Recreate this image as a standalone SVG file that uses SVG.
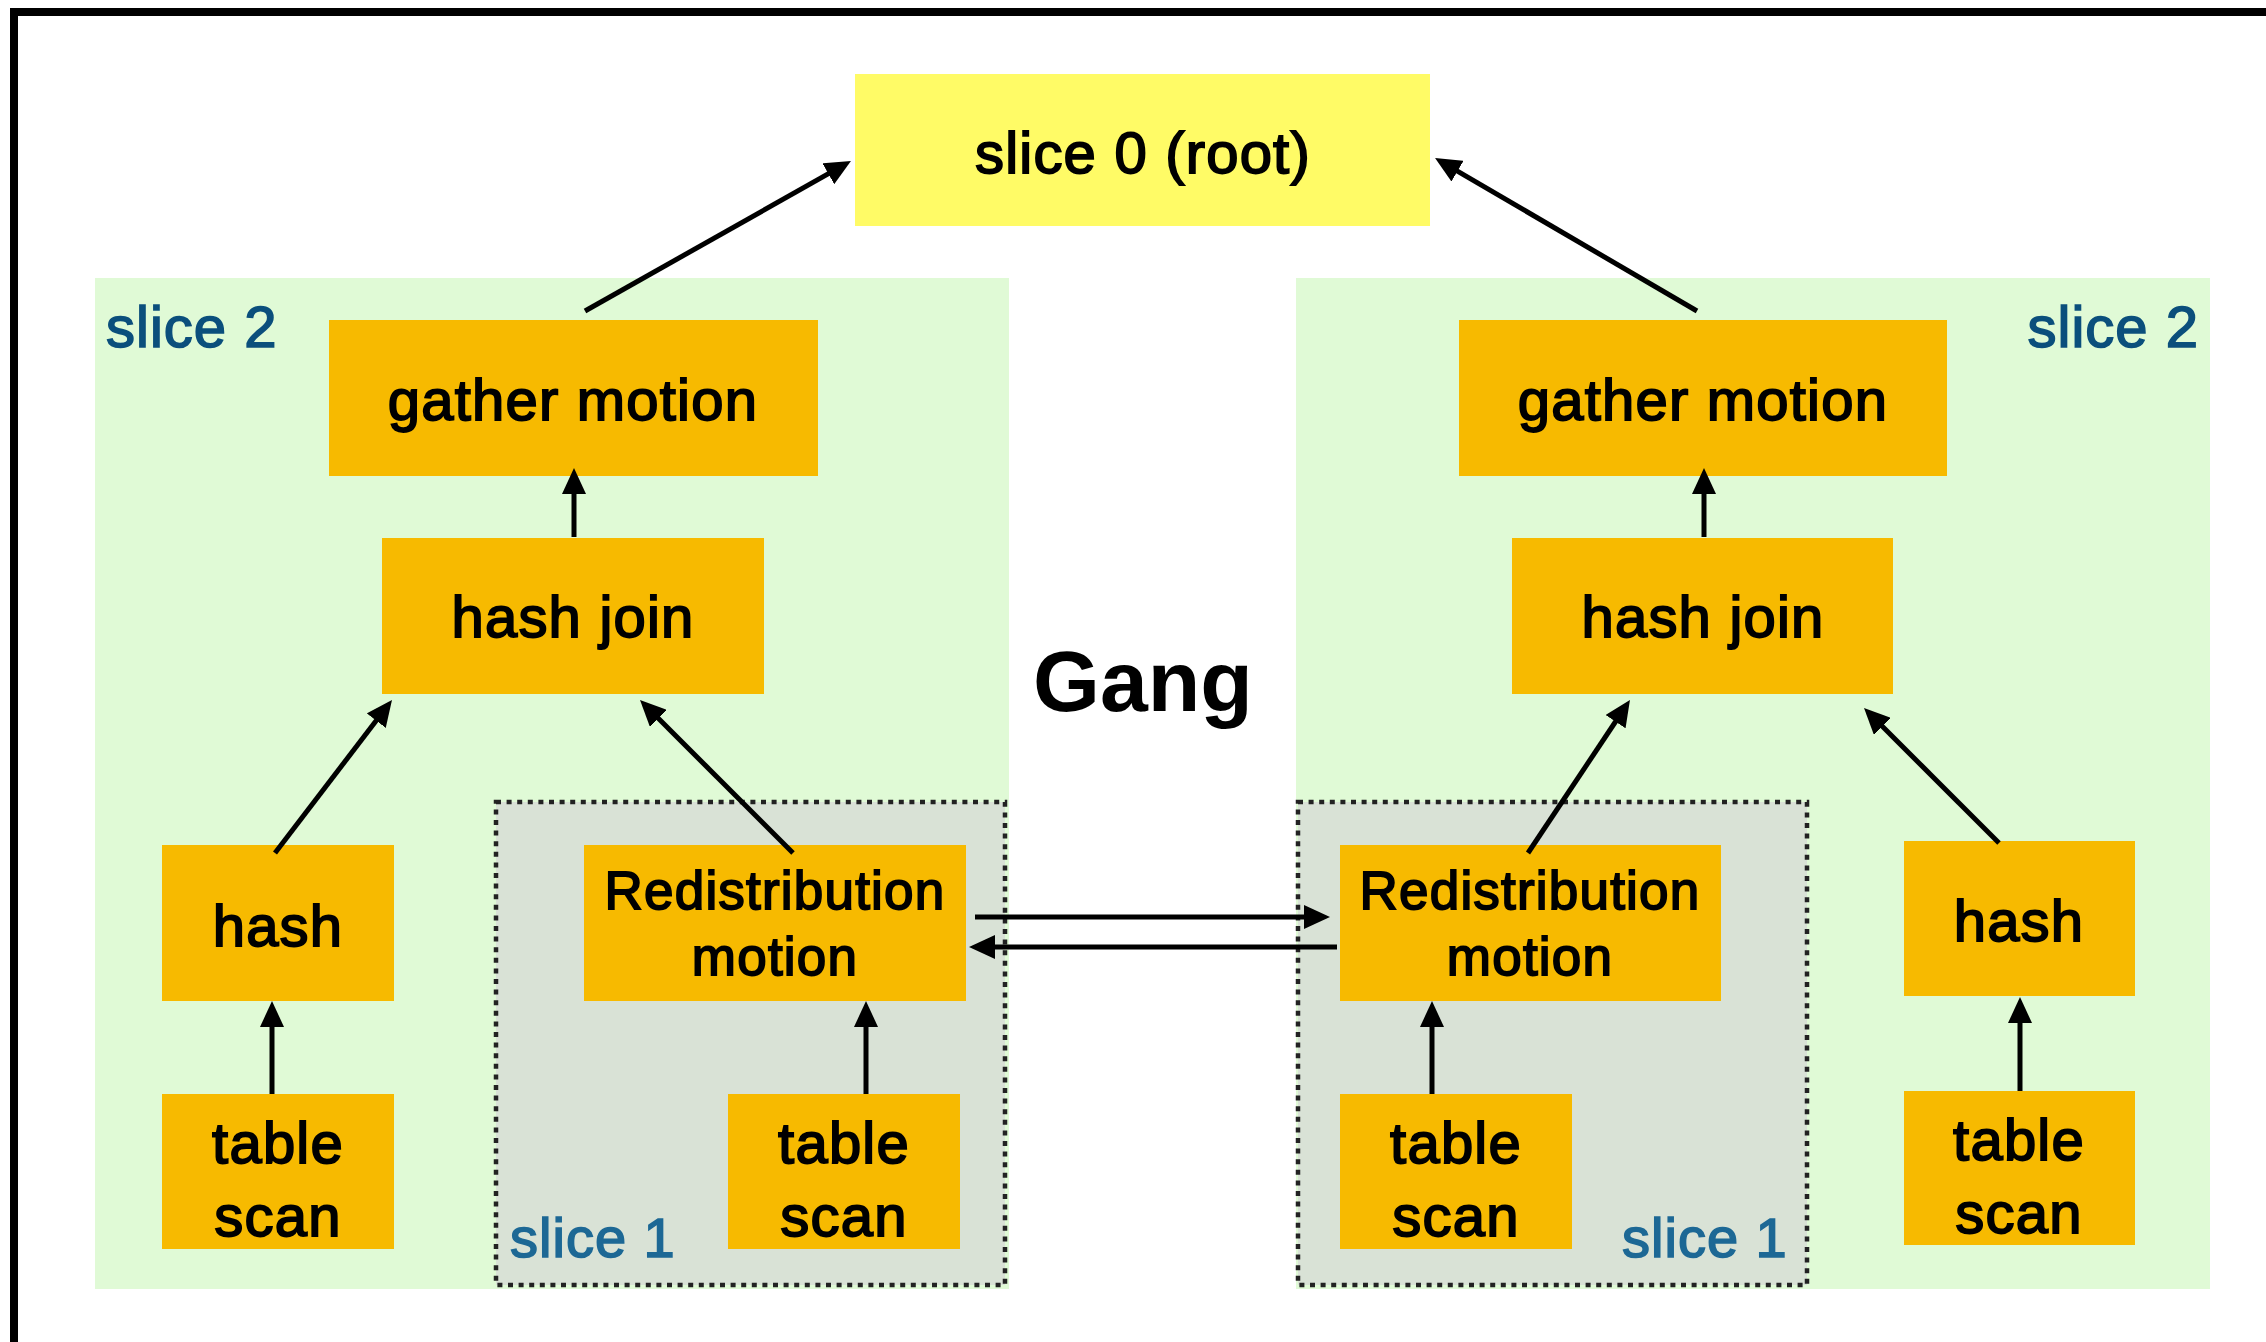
<svg xmlns="http://www.w3.org/2000/svg" width="2266" height="1342" viewBox="0 0 2266 1342">
<defs>
<style>
.frame{stroke:#000;stroke-width:8;fill:none}
.panel{fill:#e0fad6}
.slice1{fill:#d9e2d6;stroke:#222;stroke-width:4.5;stroke-dasharray:5 5.6}
.op{fill:#f7ba00}
.root{fill:#fffb66}
.t{font-family:"Liberation Sans",Arial,Helvetica,sans-serif;font-size:58px;fill:#000;stroke:#000;stroke-width:1.8;letter-spacing:1.2px;text-anchor:middle}
.rd{font-size:53px}
.lbl2{font-family:"Liberation Sans",Arial,Helvetica,sans-serif;font-size:58px;fill:#0b4f7c;stroke:#0b4f7c;stroke-width:1.6;letter-spacing:1px}
.lbl1{font-family:"Liberation Sans",Arial,Helvetica,sans-serif;font-size:56px;fill:#1d6895;stroke:#1d6895;stroke-width:1.6;letter-spacing:1px}
.gang{font-family:"Liberation Sans",Arial,Helvetica,sans-serif;font-size:86px;font-weight:bold;fill:#000;text-anchor:middle}
.c{stroke:#000;stroke-width:5;fill:none;marker-end:url(#ah)}
</style>
<marker id="ah" markerUnits="userSpaceOnUse" markerWidth="26" markerHeight="24" viewBox="0 0 26 24" refX="14" refY="12" orient="auto">
<path d="M0,0 L26,12 L0,24 z" fill="#000"/>
</marker>
</defs>
<rect width="2266" height="1342" fill="#fff"/>
<path class="frame" d="M14,1342 L14,12 L2266,12"/>

<g id="panel-left">
<rect class="panel" x="95" y="278" width="914" height="1011"/>
<text class="lbl2" x="106" y="347">slice 2</text>
</g>
<g id="panel-right">
<rect class="panel" x="1296" y="278" width="914" height="1011"/>
<text class="lbl2" x="2199" y="347" text-anchor="end">slice 2</text>
</g>
<g id="slice1-left">
<rect class="slice1" x="496" y="802" width="509" height="483"/>
<text class="lbl1" x="510" y="1257">slice 1</text>
</g>
<g id="slice1-right">
<rect class="slice1" x="1298" y="802" width="509" height="483"/>
<text class="lbl1" x="1622" y="1257">slice 1</text>
</g>

<g id="root">
<rect class="root" x="855" y="74" width="575" height="152"/>
<text class="t" x="1143" y="173">slice 0 (root)</text>
</g>
<g id="gang">
<text class="gang" x="1143" y="711">Gang</text>
</g>

<g id="gather-left">
<rect class="op" x="329" y="320" width="489" height="156"/>
<text class="t" x="573" y="420">gather motion</text>
</g>
<g id="hashjoin-left">
<rect class="op" x="382" y="538" width="382" height="156"/>
<text class="t" x="573" y="637">hash join</text>
</g>
<g id="hash-left">
<rect class="op" x="162" y="845" width="232" height="156"/>
<text class="t" x="278" y="946">hash</text>
</g>
<g id="scan-left">
<rect class="op" x="162" y="1094" width="232" height="155"/>
<text class="t" x="278" y="1163">table</text>
<text class="t" x="278" y="1236">scan</text>
</g>
<g id="redis-left">
<rect class="op" x="584" y="845" width="382" height="156"/>
<text class="t rd" x="775" y="909">Redistribution</text>
<text class="t rd" x="775" y="975">motion</text>
</g>
<g id="scan1-left">
<rect class="op" x="728" y="1094" width="232" height="155"/>
<text class="t" x="844" y="1163">table</text>
<text class="t" x="844" y="1236">scan</text>
</g>

<g id="gather-right">
<rect class="op" x="1459" y="320" width="488" height="156"/>
<text class="t" x="1703" y="420">gather motion</text>
</g>
<g id="hashjoin-right">
<rect class="op" x="1512" y="538" width="381" height="156"/>
<text class="t" x="1703" y="637">hash join</text>
</g>
<g id="redis-right">
<rect class="op" x="1340" y="845" width="381" height="156"/>
<text class="t rd" x="1530" y="909">Redistribution</text>
<text class="t rd" x="1530" y="975">motion</text>
</g>
<g id="scan1-right">
<rect class="op" x="1340" y="1094" width="232" height="155"/>
<text class="t" x="1456" y="1163">table</text>
<text class="t" x="1456" y="1236">scan</text>
</g>
<g id="hash-right">
<rect class="op" x="1904" y="841" width="231" height="155"/>
<text class="t" x="2019" y="941">hash</text>
</g>
<g id="scan-right">
<rect class="op" x="1904" y="1091" width="231" height="154"/>
<text class="t" x="2019" y="1160">table</text>
<text class="t" x="2019" y="1233">scan</text>
</g>

<g id="connectors">
<line class="c" x1="585" y1="311" x2="840.5" y2="166.9"/>
<line class="c" x1="1697" y1="311" x2="1445.4" y2="164.1"/>
<line class="c" x1="574" y1="537" x2="574" y2="480"/>
<line class="c" x1="1704" y1="537" x2="1704" y2="480"/>
<line class="c" x1="275" y1="853" x2="384.7" y2="709.5"/>
<line class="c" x1="793" y1="853" x2="648.5" y2="708.5"/>
<line class="c" x1="1528" y1="853" x2="1623.3" y2="710"/>
<line class="c" x1="1999" y1="843" x2="1872.5" y2="716.5"/>
<line class="c" x1="272" y1="1094" x2="272" y2="1013"/>
<line class="c" x1="866" y1="1094" x2="866" y2="1013"/>
<line class="c" x1="1432" y1="1094" x2="1432" y2="1013"/>
<line class="c" x1="2020" y1="1091" x2="2020" y2="1009"/>
<line class="c" x1="975" y1="917" x2="1318" y2="917"/>
<line class="c" x1="1337" y1="947" x2="981" y2="947"/>
</g>
</svg>
